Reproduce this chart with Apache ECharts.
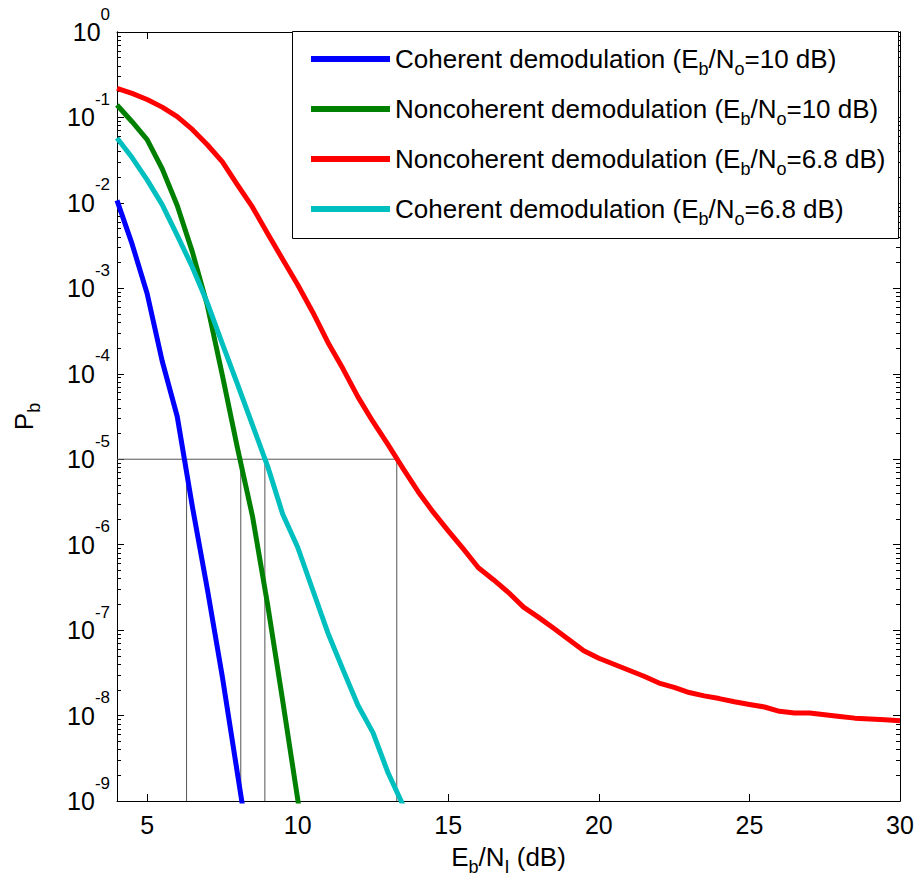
<!DOCTYPE html>
<html>
<head>
<meta charset="utf-8">
<title>Pb vs Eb/NI</title>
<script src="https://cdn.jsdelivr.net/npm/echarts@6/dist/echarts.min.js"></script>
<style>
  html, body { margin: 0; padding: 0; background: #fff; }
  #chart { width: 917px; height: 880px; }
</style>
</head>
<body>
<div id="chart"></div>
<script>
// Eb/NI (dB), sampled every 0.5 dB
var ebni = [4, 4.5, 5, 5.5, 6, 6.5, 7, 7.5, 8, 8.5, 9, 9.5, 10, 10.5, 11, 11.5, 12, 12.5,
  13, 13.5, 14, 14.5, 15, 15.5, 16, 16.5, 17, 17.5, 18, 18.5, 19, 19.5, 20, 20.5, 21, 21.5,
  22, 22.5, 23, 23.5, 24, 24.5, 25, 25.5, 26, 26.5, 27, 27.5, 28, 28.5, 29, 29.5, 30];

// bit error probability
var cohPb10 = [1.07e-2, 3.31e-3, 8.71e-4, 1.41e-4, 3.16e-5, 2.82e-6, 3.02e-7, 2.82e-8, 2.09e-9, 1.58e-10];
var noncohPb10 = [1.40e-1, 8.91e-2, 5.50e-2, 2.51e-2, 9.33e-3, 2.69e-3, 6.31e-4, 9.55e-5, 1.35e-5,
  2.14e-6, 2.00e-7, 1.51e-8, 1.05e-9, 7.94e-11];
var noncohPb68 = [2.19e-1, 1.91e-1, 1.62e-1, 1.32e-1, 1.02e-1, 7.24e-2, 4.79e-2, 3.02e-2, 1.62e-2,
  8.91e-3, 4.37e-3, 2.19e-3, 1.10e-3, 5.25e-4, 2.34e-4, 1.15e-4, 5.37e-5, 2.75e-5, 1.48e-5,
  7.76e-6, 4.17e-6, 2.40e-6, 1.45e-6, 8.91e-7, 5.37e-7, 3.89e-7, 2.75e-7, 1.86e-7, 1.41e-7,
  1.05e-7, 7.76e-8, 5.75e-8, 4.68e-8, 3.98e-8, 3.39e-8, 2.88e-8, 2.40e-8, 2.14e-8, 1.86e-8,
  1.70e-8, 1.58e-8, 1.45e-8, 1.35e-8, 1.26e-8, 1.12e-8, 1.07e-8, 1.07e-8, 1.02e-8, 9.77e-9,
  9.33e-9, 9.12e-9, 8.91e-9, 8.71e-9];
var cohPb68 = [5.75e-2, 3.39e-2, 1.86e-2, 9.55e-3, 4.17e-3, 1.78e-3, 6.76e-4, 2.24e-4, 7.59e-5,
  2.51e-5, 8.32e-6, 2.29e-6, 9.33e-7, 2.95e-7, 9.33e-8, 3.47e-8, 1.32e-8, 6.31e-9, 2.14e-9, 8.91e-10];

// required Eb/NI for Pb = 1e-5, one per curve
var targetPb = 1e-5;
var crossX = [6.31, 8.11, 8.91, 13.29];

var seriesNames = [
  'Coherent demodulation (Eb/No=10 dB)',
  'Noncoherent demodulation (Eb/No=10 dB)',
  'Noncoherent demodulation (Eb/No=6.8 dB)',
  'Coherent demodulation (Eb/No=6.8 dB)'
];
var seriesValues = [cohPb10, noncohPb10, noncohPb68, cohPb68];
var seriesColors = ['#0000ff', '#008000', '#ff0000', '#00bfbf'];

var xTicks = [5, 10, 15, 20, 25, 30];
var yTicks = [1e-9, 1e-8, 1e-7, 1e-6, 1e-5, 1e-4, 1e-3, 1e-2, 1e-1, 1];

// minor ticks 2..9 inside each decade
var yMinor = [];
for (var d = 0; d < yTicks.length - 1; d++) {
  for (var m = 2; m <= 9; m++) yMinor.push(yTicks[d] * m);
}

var FONT = "'Liberation Sans', Arial, Helvetica, sans-serif";

// text with subscripts: base at top, subscript dropped lower
var subRich = {
  n: { fontFamily: FONT, fontSize: 26, color: '#000', lineHeight: 26, verticalAlign: 'top', padding: [0, 0, 10, 0] },
  s: { fontFamily: FONT, fontSize: 18, color: '#000', lineHeight: 18, verticalAlign: 'top', padding: [14, 0, 0, 0] }
};

function ebnoLabel(name) {
  var parts = name.split('Eb/No');
  return '{n|' + parts[0] + 'E}{s|b}{n|/N}{s|o}{n|' + parts[1] + '}';
}

function pairs(vals) {
  var out = [];
  for (var i = 0; i < vals.length; i++) out.push([ebni[i], vals[i]]);
  return out;
}

var series = [];

// thin guide lines at Pb = 1e-5
series.push({
  type: 'line', name: 'guide-h', silent: true, symbol: 'none', z: 1,
  lineStyle: { color: '#555', width: 1 },
  data: [[ebni[0], targetPb], [crossX[crossX.length - 1], targetPb]]
});
crossX.forEach(function (x, i) {
  series.push({
    type: 'line', name: 'guide-v' + i, silent: true, symbol: 'none', z: 1,
    lineStyle: { color: '#555', width: 1 },
    data: [[x, yTicks[0]], [x, targetPb]]
  });
});

seriesNames.forEach(function (nm, i) {
  series.push({
    type: 'line', name: nm, symbol: 'none', showSymbol: false, z: 3,
    clip: true,
    color: seriesColors[i],
    lineStyle: { color: seriesColors[i], width: 5, join: 'round' },
    data: pairs(seriesValues[i])
  });
});

function logAxis(pos, ticks, len) {
  return {
    type: 'log', logBase: 10, min: 1e-9, max: 1, position: pos,
    axisLine: { show: true, onZero: false, lineStyle: { color: '#000', width: 1 } },
    axisTick: { show: true, inside: true, length: len, customValues: ticks, lineStyle: { color: '#000' } },
    axisLabel: { show: false },
    splitLine: { show: false }
  };
}

var leftY = logAxis('left', yTicks, 7);
leftY.name = '{n|P}{s|b}';
leftY.nameLocation = 'middle';
leftY.nameGap = 80;
leftY.nameRotate = 90;
leftY.nameTextStyle = { rich: subRich };
leftY.axisLabel = {
  customValues: yTicks, margin: 7,
  formatter: function (v) {
    return '{b|10}{e|' + Math.round(Math.log10(v)) + '}';
  },
  rich: {
    b: { fontFamily: FONT, fontSize: 25, color: '#000', lineHeight: 53, verticalAlign: 'middle' },
    e: { fontFamily: FONT, fontSize: 17, color: '#000', lineHeight: 17, verticalAlign: 'top' }
  }
};

var chart = echarts.init(document.getElementById('chart'), null, { renderer: 'svg' });

var option = {
  animation: false,
  backgroundColor: '#fff',
  grid: { left: 117, right: 17, top: 32, bottom: 79, outerBoundsMode: 'none' },
  graphic: [{
    type: 'rect', z: 1,
    shape: { x: 292.5, y: 31.5, width: 606, height: 207 },
    style: { fill: '#fff', stroke: '#000', lineWidth: 1 }
  }],
  legend: {
    data: seriesNames,
    orient: 'vertical',
    left: 311, top: 46,
    padding: 0,
    itemWidth: 79, itemHeight: 6, itemGap: 14,
    icon: 'rect',
    selectedMode: false,
    formatter: ebnoLabel,
    textStyle: { fontFamily: FONT, fontSize: 26, color: '#000', rich: subRich }
  },
  xAxis: [{
    type: 'value', min: 4, max: 30, position: 'bottom',
    name: '{n|E}{s|b}{n|/N}{s|I}{n| (dB)}',
    nameLocation: 'middle', nameGap: 43,
    nameTextStyle: { rich: subRich },
    axisLine: { show: true, onZero: false, lineStyle: { color: '#000', width: 1 } },
    axisTick: { show: true, inside: true, length: 7, customValues: xTicks, lineStyle: { color: '#000' } },
    axisLabel: { customValues: xTicks, fontFamily: FONT, fontSize: 25, color: '#000', margin: 11 },
    splitLine: { show: false }
  }, {
    type: 'value', min: 4, max: 30, position: 'top',
    axisLine: { show: true, onZero: false, lineStyle: { color: '#000', width: 1 } },
    axisTick: { show: true, inside: true, length: 7, customValues: xTicks, lineStyle: { color: '#000' } },
    axisLabel: { show: false },
    splitLine: { show: false }
  }],
  yAxis: [leftY, logAxis('right', yTicks, 7), logAxis('left', yMinor, 4), logAxis('right', yMinor, 4)],
  series: series
};

chart.setOption(option);
</script>
</body>
</html>
